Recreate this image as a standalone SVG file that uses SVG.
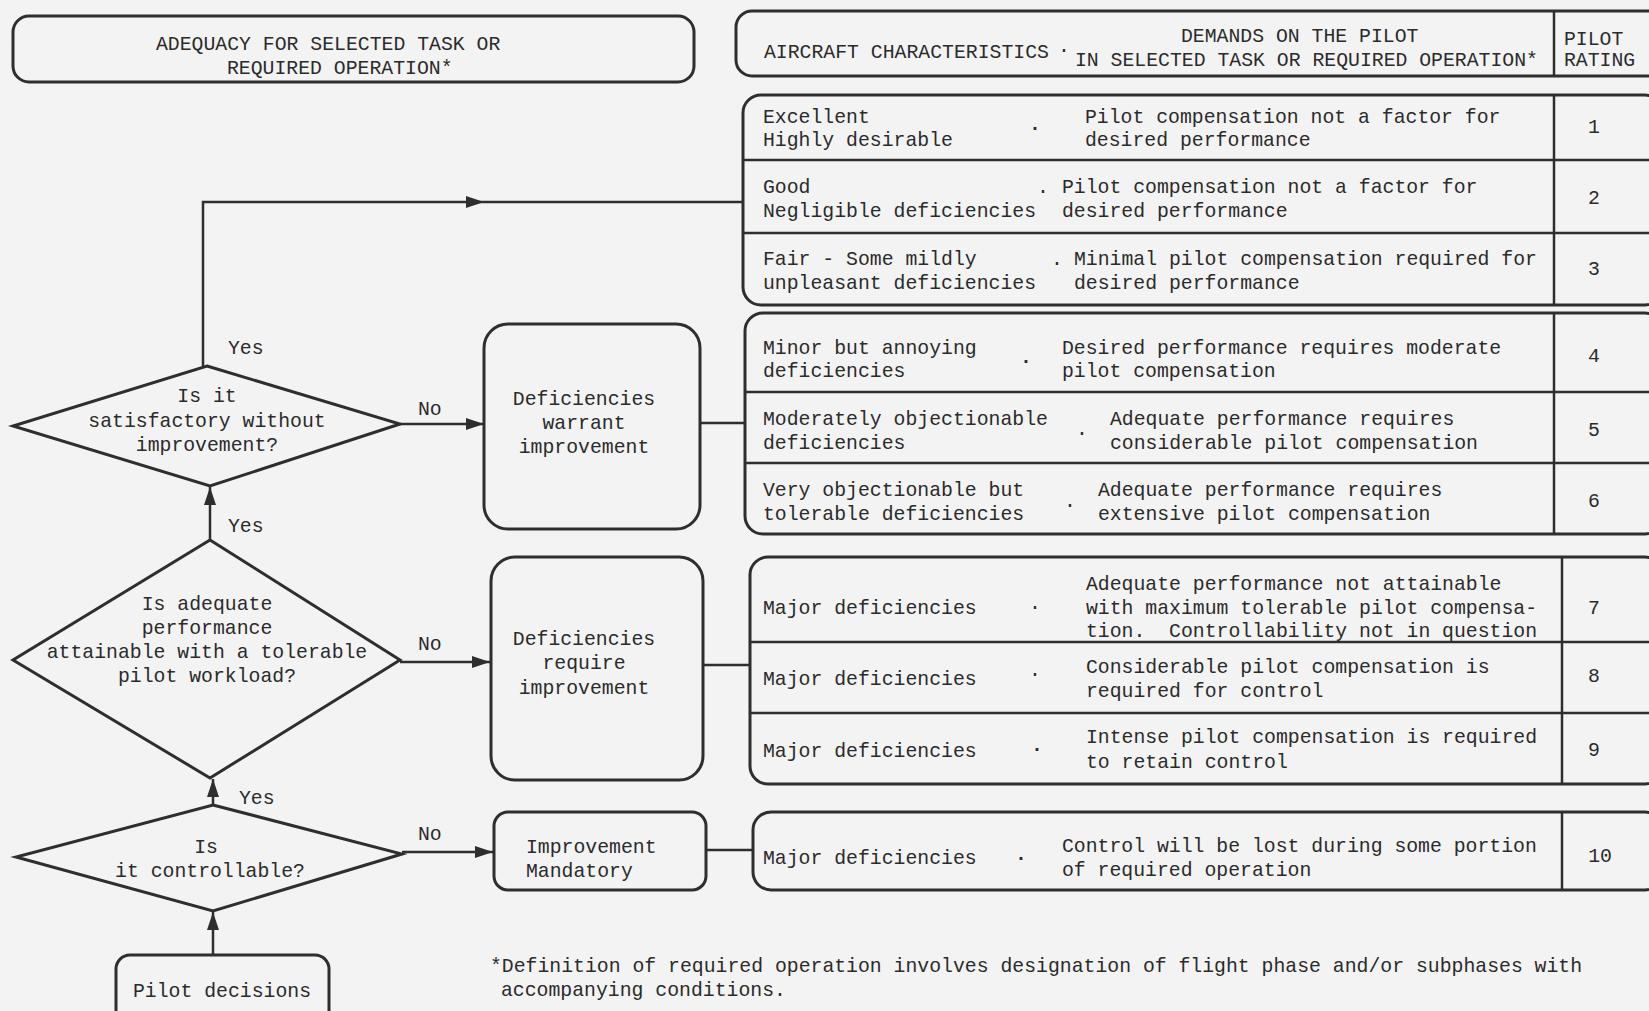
<svg xmlns="http://www.w3.org/2000/svg" width="1649" height="1011" viewBox="0 0 1649 1011">
<style>
text{font-family:"Liberation Mono","DejaVu Sans Mono",monospace;font-size:19.8px;fill:#2b2b2b;white-space:pre}
.c{text-anchor:middle}
.box{fill:none;stroke:#2e2e2e;stroke-width:3}
.ln{fill:none;stroke:#2e2e2e;stroke-width:2.5}
.dot{font-weight:bold}
</style>
<defs>
<marker id="ah" viewBox="0 0 18 12" refX="18" refY="6" markerWidth="18" markerHeight="12" markerUnits="userSpaceOnUse" orient="auto">
<path d="M0,0 L18,6 L0,12 Z" fill="#2e2e2e"/>
</marker>
</defs>
<rect width="1649" height="1011" fill="#f3f3f3"/>

<g id="header-left">
<rect class="box" x="13" y="16" width="681" height="66" rx="16"/>
<text x="156" y="50">ADEQUACY FOR SELECTED TASK OR</text>
<text x="227" y="74">REQUIRED OPERATION*</text>
</g>

<g id="header-right">
<rect class="box" x="736" y="11" width="930" height="65" rx="16"/>
<line class="ln" x1="1554" y1="11" x2="1554" y2="76"/>
<text x="764" y="58">AIRCRAFT CHARACTERISTICS</text>
<text x="1058" y="52">.</text>
<text x="1181" y="42">DEMANDS ON THE PILOT</text>
<text x="1075" y="66">IN SELECTED TASK OR REQUIRED OPERATION*</text>
<text x="1564" y="45">PILOT</text>
<text x="1564" y="66">RATING</text>
</g>

<g id="ratings-1-3">
<rect class="box" x="743" y="95" width="920" height="210" rx="18"/>
<line class="ln" x1="743" y1="160" x2="1649" y2="160"/>
<line class="ln" x1="743" y1="233" x2="1649" y2="233"/>
<line class="ln" x1="1554" y1="95" x2="1554" y2="305"/>
<text x="763" y="123">Excellent</text>
<text x="763" y="146">Highly desirable</text>
<text class="dot" x="1029" y="130">.</text>
<text x="1085" y="123">Pilot compensation not a factor for</text>
<text x="1085" y="146">desired performance</text>
<text class="c" x="1594" y="133">1</text>
<text x="763" y="193">Good</text>
<text x="763" y="217">Negligible deficiencies</text>
<text x="1037" y="193">.</text>
<text x="1062" y="193">Pilot compensation not a factor for</text>
<text x="1062" y="217">desired performance</text>
<text class="c" x="1594" y="204">2</text>
<text x="763" y="265">Fair - Some mildly</text>
<text x="763" y="289">unpleasant deficiencies</text>
<text x="1051" y="265">.</text>
<text x="1074" y="265">Minimal pilot compensation required for</text>
<text x="1074" y="289">desired performance</text>
<text class="c" x="1594" y="275">3</text>
</g>

<g id="ratings-4-6">
<rect class="box" x="745" y="313" width="918" height="221" rx="18"/>
<line class="ln" x1="745" y1="392" x2="1649" y2="392"/>
<line class="ln" x1="745" y1="463" x2="1649" y2="463"/>
<line class="ln" x1="1554" y1="313" x2="1554" y2="534"/>
<text x="763" y="354">Minor but annoying</text>
<text x="763" y="377">deficiencies</text>
<text class="dot" x="1020" y="363">.</text>
<text x="1062" y="354">Desired performance requires moderate</text>
<text x="1062" y="377">pilot compensation</text>
<text class="c" x="1594" y="362">4</text>
<text x="763" y="425">Moderately objectionable</text>
<text x="763" y="449">deficiencies</text>
<text x="1076" y="435">.</text>
<text x="1110" y="425">Adequate performance requires</text>
<text x="1110" y="449">considerable pilot compensation</text>
<text class="c" x="1594" y="436">5</text>
<text x="763" y="496">Very objectionable but</text>
<text x="763" y="520">tolerable deficiencies</text>
<text x="1064" y="507">.</text>
<text x="1098" y="496">Adequate performance requires</text>
<text x="1098" y="520">extensive pilot compensation</text>
<text class="c" x="1594" y="507">6</text>
</g>

<g id="ratings-7-9">
<rect class="box" x="750" y="557" width="913" height="227" rx="18"/>
<line class="ln" x1="750" y1="642" x2="1649" y2="642"/>
<line class="ln" x1="750" y1="713" x2="1649" y2="713"/>
<line class="ln" x1="1562" y1="557" x2="1562" y2="784"/>
<text x="763" y="614">Major deficiencies</text>
<text x="1029" y="609">.</text>
<text x="1086" y="590">Adequate performance not attainable</text>
<text x="1086" y="614">with maximum tolerable pilot compensa-</text>
<text x="1086" y="637" xml:space="preserve">tion.  Controllability not in question</text>
<text class="c" x="1594" y="614">7</text>
<text x="763" y="685">Major deficiencies</text>
<text x="1029" y="676">.</text>
<text x="1086" y="673">Considerable pilot compensation is</text>
<text x="1086" y="697">required for control</text>
<text class="c" x="1594" y="682">8</text>
<text x="763" y="757">Major deficiencies</text>
<text class="dot" x="1031" y="751">.</text>
<text x="1086" y="743">Intense pilot compensation is required</text>
<text x="1086" y="768">to retain control</text>
<text class="c" x="1594" y="756">9</text>
</g>

<g id="rating-10">
<rect class="box" x="753" y="812" width="910" height="78" rx="18"/>
<line class="ln" x1="1562" y1="812" x2="1562" y2="890"/>
<text x="763" y="864">Major deficiencies</text>
<text class="dot" x="1015" y="860">.</text>
<text x="1062" y="852">Control will be lost during some portion</text>
<text x="1062" y="876">of required operation</text>
<text class="c" x="1600" y="862">10</text>
</g>

<g id="q-satisfactory">
<polygon class="box" points="207,366 400,424 210,486 13,426"/>
<text class="c" x="207" y="402">Is it</text>
<text class="c" x="207" y="427">satisfactory without</text>
<text class="c" x="207" y="451">improvement?</text>
</g>

<g id="q-adequate">
<polygon class="box" points="210,540 400,660 210,778 13,660"/>
<text class="c" x="207" y="610">Is adequate</text>
<text class="c" x="207" y="634">performance</text>
<text class="c" x="207" y="658">attainable with a tolerable</text>
<text class="c" x="207" y="682">pilot workload?</text>
</g>

<g id="q-controllable">
<polygon class="box" points="213,805 402,854 213,911 16,857"/>
<text class="c" x="206" y="853">Is</text>
<text class="c" x="210" y="877">it controllable?</text>
</g>

<g id="warrant">
<rect class="box" x="484" y="324" width="216" height="205" rx="24"/>
<text class="c" x="584" y="405">Deficiencies</text>
<text class="c" x="584" y="429">warrant</text>
<text class="c" x="584" y="453">improvement</text>
</g>

<g id="require">
<rect class="box" x="491" y="557" width="212" height="223" rx="24"/>
<text class="c" x="584" y="645">Deficiencies</text>
<text class="c" x="584" y="669">require</text>
<text class="c" x="584" y="694">improvement</text>
</g>

<g id="mandatory">
<rect class="box" x="494" y="812" width="212" height="78" rx="14"/>
<text x="526" y="853">Improvement</text>
<text x="526" y="877">Mandatory</text>
</g>

<g id="pilot-decisions">
<rect class="box" x="116" y="955" width="213" height="70" rx="14"/>
<text class="c" x="222" y="997">Pilot decisions</text>
</g>

<g id="connectors">
<path class="ln" d="M203,366 V202 H484" marker-end="url(#ah)"/>
<line class="ln" x1="484" y1="202" x2="743" y2="202"/>
<path class="ln" d="M400,424 H484" marker-end="url(#ah)"/>
<line class="ln" x1="700" y1="423" x2="745" y2="423"/>
<path class="ln" d="M210,540 V487" marker-end="url(#ah)"/>
<path class="ln" d="M400,662 H490" marker-end="url(#ah)"/>
<line class="ln" x1="703" y1="665" x2="750" y2="665"/>
<path class="ln" d="M213,805 V779" marker-end="url(#ah)"/>
<path class="ln" d="M402,852 H493" marker-end="url(#ah)"/>
<line class="ln" x1="706" y1="850" x2="753" y2="850"/>
<path class="ln" d="M213,955 V912" marker-end="url(#ah)"/>
<text x="228" y="354">Yes</text>
<text x="418" y="415">No</text>
<text x="228" y="532">Yes</text>
<text x="418" y="650">No</text>
<text x="239" y="804">Yes</text>
<text x="418" y="840">No</text>
</g>

<g id="footnote">
<text x="490" y="972">*Definition of required operation involves designation of flight phase and/or subphases with</text>
<text x="501" y="996">accompanying conditions.</text>
</g>
</svg>
